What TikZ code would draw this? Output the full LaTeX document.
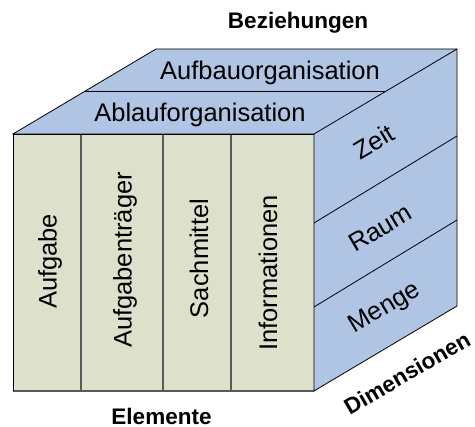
\documentclass[tikz,border=0pt]{standalone}
\usepackage{fontspec}
\setmainfont{Liberation Sans}
\definecolor{elemfill}{HTML}{DDE0CA}
\definecolor{dimfill}{HTML}{B0C5E3}
\definecolor{divline}{HTML}{5A5A5A}
\begin{document}
\begin{tikzpicture}[x=1pt,y=-1pt,
  edge/.style={draw=black,line width=0.8pt,line join=miter},
  divider/.style={draw=divline,line width=1.3pt},
  lbl/.style={inner sep=0pt,font=\fontsize{25.5}{30}\selectfont},
  hdr/.style={inner sep=0pt,font=\fontsize{22.5}{27}\selectfont\bfseries}]
\useasboundingbox (0,0) rectangle (475,427);
% cube corners
\coordinate (ftl) at (13,134);
\coordinate (ftr) at (314,134);
\coordinate (fbr) at (314,391);
\coordinate (fbl) at (13,391);
\coordinate (btl) at (156,49);
\coordinate (btr) at (457,49);
\coordinate (bbr) at (457,306);
% top face: two layers
\path[fill=dimfill] (ftl) -- (btl) -- (btr) -- (ftr) -- cycle;
\coordinate (tml) at (84.5,91.5);
\coordinate (tmr) at (385.5,91.5);
\draw[edge] (tml) -- (tmr);
% right face: three layers
\path[fill=dimfill] (ftr) -- (btr) -- (bbr) -- (fbr) -- cycle;
\coordinate (r1f) at (314,223);
\coordinate (r1b) at (457,136);
\coordinate (r2f) at (314,307);
\coordinate (r2b) at (457,220);
\draw[edge] (r1f) -- (r1b);
\draw[edge] (r2f) -- (r2b);
% front face: four columns
\path[fill=elemfill] (ftl) rectangle (fbr);
\coordinate (c1t) at (81,134);  \coordinate (c1b) at (81,391);
\coordinate (c2t) at (163,134); \coordinate (c2b) at (163,391);
\coordinate (c3t) at (231,134); \coordinate (c3b) at (231,391);
\draw[divider] (c1t) -- (c1b);
\draw[divider] (c2t) -- (c2b);
\draw[divider] (c3t) -- (c3b);
\draw[divider] (fbl) -- (fbr);
% outline
\draw[edge] (ftl) -- (btl) -- (btr) -- (bbr) -- (fbr) -- (ftr) -- cycle;
\draw[edge] (ftr) -- (btr);
\draw[edge] (fbl) -- (ftl) -- (ftr);
% labels
\node[lbl,anchor=base] (aufbau) at (270,80) {Aufbauorganisation};
\node[lbl,anchor=base] (ablauf) at (200,122) {Ablauforganisation};
\node[lbl,rotate=90] (aufgabe) at (50,261.5) {Aufgabe};
\node[lbl,rotate=90] (traeger) at (125,260) {Aufgabenträger};
\node[lbl,rotate=90] (sach) at (199,258.5) {Sachmittel};
\node[lbl,rotate=90] (info) at (268,273) {Informationen};
\node[lbl,rotate=30.7] (zeit) at (374,141.5) {Zeit};
\node[lbl,rotate=30.7] (raum) at (380,228) {Raum};
\node[lbl,rotate=30.7] (menge) at (385,308.5) {Menge};
\node[hdr,anchor=base] (bez) at (298,29) {Beziehungen};
\node[hdr,anchor=base] (elem) at (161.5,425) {Elemente};
\node[hdr,rotate=30] (dim) at (407,373) {Dimensionen};
\end{tikzpicture}
\end{document}
